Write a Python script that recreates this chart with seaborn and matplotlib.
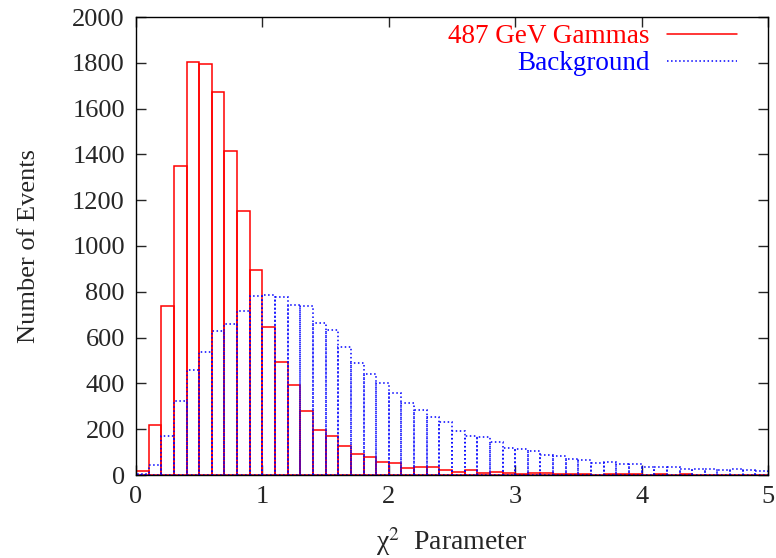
import numpy as np
import pandas as pd
import matplotlib
matplotlib.use("Agg")
import matplotlib.pyplot as plt
import seaborn as sns
from matplotlib.lines import Line2D

# Histogram data (bin width 0.1, range 0..5)
bin_edges = [round(i * 0.1, 1) for i in range(51)]
gamma_counts = [16, 217, 736, 1348, 1804, 1796, 1671, 1417, 1155, 897,
                647, 493, 391, 279, 195, 170, 127, 90, 77, 57,
                54, 32, 36, 33, 22, 13, 20, 9, 13, 9,
                6, 7, 7, 4, 6, 3, 2, 3, 6, 4,
                2, 3, 2, 3, 1, 2, 1, 2, 1, 1]
background_counts = [4, 42, 170, 321, 458, 535, 630, 659, 714, 780,
                     787, 778, 743, 738, 665, 634, 559, 491, 441, 403,
                     358, 316, 284, 255, 230, 192, 172, 164, 146, 118,
                     112, 103, 89, 83, 71, 64, 51, 55, 49, 47,
                     33, 36, 33, 28, 28, 25, 23, 25, 22, 16]

series_labels = ["487 GeV Gammas", "Background"]
x_ticks = [0, 1, 2, 3, 4, 5]
y_ticks = [0, 200, 400, 600, 800, 1000, 1200, 1400, 1600, 1800, 2000]

centers = [(bin_edges[i] + bin_edges[i + 1]) / 2 for i in range(50)]
df = pd.DataFrame({
    "x": centers * 2,
    "count": gamma_counts + background_counts,
    "series": [series_labels[0]] * 50 + [series_labels[1]] * 50,
})

sns.set_style("ticks")
plt.rcParams["font.family"] = ["Liberation Serif", "DejaVu Serif"]
plt.rcParams["mathtext.fontset"] = "stix"

fig = plt.figure(figsize=(7.76, 5.58), dpi=100)
ax = fig.add_axes([136 / 776, 1 - 475 / 558, 632 / 776, 458 / 558])

colors = {series_labels[0]: "#ff0000", series_labels[1]: "#0000ff"}
styles = {series_labels[0]: "-", series_labels[1]: ":"}
for name in series_labels:
    sub = df[df["series"] == name]
    sns.histplot(data=sub, x="x", weights="count", bins=bin_edges,
                 element="bars", fill=False, color=colors[name],
                 linestyle=styles[name], linewidth=1.1, ax=ax)

ax.set_xlim(0, 5)
ax.set_ylim(0, 2000)
ax.set_xticks(x_ticks)
ax.set_yticks(y_ticks)
ax.tick_params(direction="in", length=7, width=1, top=True, right=True,
               labelsize=19, pad=8)
for s in ax.spines.values():
    s.set_visible(True)
    s.set_linewidth(1.0)
    s.set_color("black")

ax.set_xlabel("χ$^2$  Parameter", fontsize=20, labelpad=12)
ax.set_ylabel("Number of Events", fontsize=19, labelpad=23)

handles = [Line2D([], [], color=colors[n], linestyle=styles[n], linewidth=1.1)
           for n in series_labels]
leg = ax.legend(handles, series_labels, loc="upper right", frameon=False,
                markerfirst=False, prop={"size": 19.5}, handlelength=2.6,
                labelspacing=0.06, handletextpad=0.63, borderpad=0.4,
                bbox_to_anchor=(0.99, 1.037), labelcolor="linecolor")

fig.savefig("out.png", dpi=100)
